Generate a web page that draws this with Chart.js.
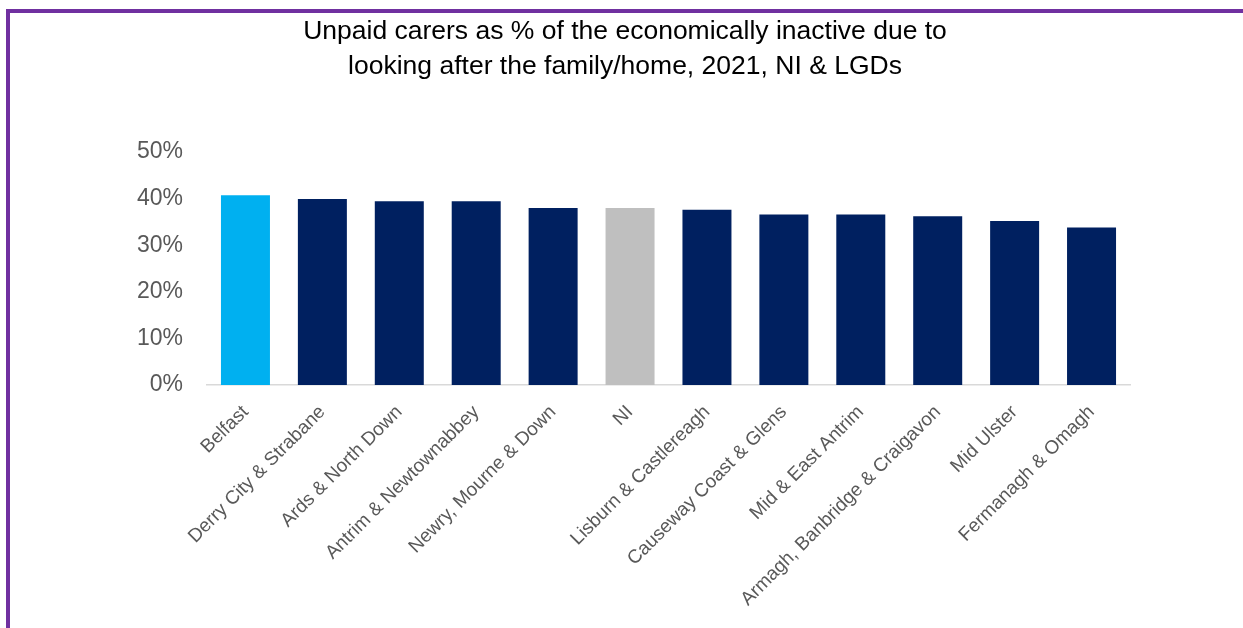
<!DOCTYPE html>
<html>
<head>
<meta charset="utf-8">
<script src="https://cdn.jsdelivr.net/npm/chart.js@4"></script>
<style>
  html, body { margin: 0; padding: 0; background: #fff; }
  #frame {
    position: absolute; top: 9px; left: 6px; right: 0; bottom: 0;
    border-top: 4px solid #7030A0; border-left: 4px solid #7030A0;
  }
  #wrap { position: absolute; top: 0; left: 0; width: 1243px; height: 628px; }
</style>
</head>
<body>
<div id="frame"></div>
<div id="wrap"><canvas id="chart"></canvas></div>
<script>
// council areas plus the NI total
const areas = [
  "Belfast", "Derry City & Strabane", "Ards & North Down", "Antrim & Newtownabbey",
  "Newry, Mourne & Down", "NI", "Lisburn & Castlereagh", "Causeway Coast & Glens",
  "Mid & East Antrim", "Armagh, Banbridge & Craigavon", "Mid Ulster", "Fermanagh & Omagh"
];
// % of economically inactive (looking after family/home) who are unpaid carers
const carerPct = [40.7, 39.9, 39.4, 39.4, 38.0, 38.0, 37.6, 36.6, 36.6, 36.2, 35.2, 33.8];
const yTicks = [0, 10, 20, 30, 40, 50];

const barColors = areas.map(a => a === "Belfast" ? "#00B0F0" : a === "NI" ? "#BFBFBF" : "#002060");
const font = "'Liberation Sans', Arial, sans-serif";

new Chart(document.getElementById("chart"), {
  type: "bar",
  data: {
    labels: areas,
    datasets: [{
      data: carerPct,
      backgroundColor: barColors,
      borderWidth: 0,
      barPercentage: 0.637,
      categoryPercentage: 1.0
    }]
  },
  options: {
    responsive: true,
    maintainAspectRatio: false,
    animation: false,
    // left/right padding keeps the title centred over the page
    layout: { padding: { left: 120, right: 113, top: 0, bottom: 0 } },
    plugins: {
      legend: { display: false },
      tooltip: { enabled: false },
      title: {
        display: true,
        text: ["Unpaid carers as % of the economically inactive due to",
               "looking after the family/home, 2021, NI & LGDs"],
        color: "#000",
        font: { family: font, size: 26.5, weight: "normal", lineHeight: 1.32 },
        padding: { top: 14.5, bottom: 67.5 }
      }
    },
    scales: {
      x: {
        grid: { display: false },
        border: { display: true, color: "#D9D9D9", width: 1.5 },
        ticks: {
          color: "#595959",
          font: { family: font, size: 19 },
          maxRotation: 45,
          minRotation: 45,
          autoSkip: false,
          padding: 8
        },
        afterFit: (scale) => { scale.height = 243; }
      },
      y: {
        min: 0,
        max: 50,
        grid: { display: false, drawTicks: false },
        border: { display: false },
        afterBuildTicks: (scale) => { scale.ticks = yTicks.map(v => ({ value: v })); },
        ticks: {
          color: "#595959",
          font: { family: font, size: 23 },
          padding: 24,
          callback: (v) => v + "%"
        },
        afterFit: (scale) => { scale.width = 87; }
      }
    }
  }
});
</script>
</body>
</html>
